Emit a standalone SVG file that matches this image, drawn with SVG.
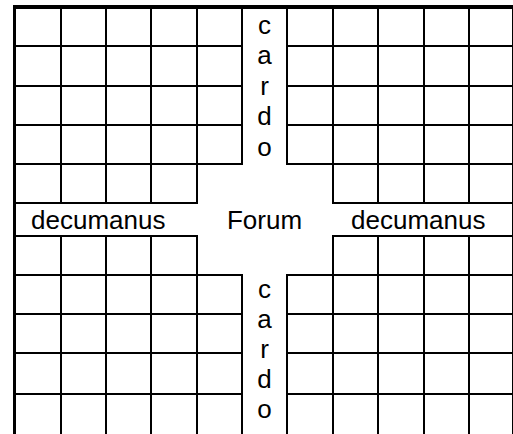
<svg xmlns="http://www.w3.org/2000/svg" width="513" height="434" viewBox="0 0 513 434">
<style>
.g{fill:none;stroke:#000;stroke-width:2}
.b{fill:#000}
.t{font-family:"Liberation Sans",Arial,sans-serif;font-size:26px;fill:#000}
.m{text-anchor:middle}
</style>
<rect width="513" height="434" fill="#fff"/>
<g id="border">
<rect class="b" x="13" y="5" width="3" height="429"/>
<rect class="b" x="13" y="5" width="499" height="4"/>
<rect class="b" x="512" y="5" width="1" height="429"/>
</g>
<g id="top-left-blocks">
<path class="g" d="M16 46H243M16 86H243M16 125H243M16 164H243M16 203H198M61 9V204M106 9V204M151 9V204M197 9V204M242 9V165"/>
</g>
<g id="top-right-blocks">
<path class="g" d="M286 46H512M286 86H512M286 125H512M286 164H512M332 203H512M287 9V165M333 9V204M378 9V204M424 9V204M469 9V204"/>
</g>
<g id="bottom-left-blocks">
<path class="g" d="M16 236H198M16 275H243M16 314H243M16 353H243M16 394H243M61 235V434M106 235V434M151 235V434M197 235V434M242 274V434"/>
</g>
<g id="bottom-right-blocks">
<path class="g" d="M332 236H512M286 275H512M286 314H512M286 353H512M286 394H512M333 235V434M378 235V434M424 235V434M469 235V434M287 274V434"/>
</g>
<g id="cardo-north">
<text class="t m" x="264.5" y="33.5">c</text>
<text class="t m" x="264.5" y="64">a</text>
<text class="t m" x="264.5" y="94.5">r</text>
<text class="t m" x="264.5" y="125">d</text>
<text class="t m" x="264.5" y="155.5">o</text>
</g>
<g id="forum">
<text class="t m" x="264.5" y="229">Forum</text>
</g>
<g id="decumanus-west">
<text class="t" x="31" y="229">decumanus</text>
</g>
<g id="decumanus-east">
<text class="t" x="351" y="229">decumanus</text>
</g>
<g id="cardo-south">
<text class="t m" x="264.5" y="297.5">c</text>
<text class="t m" x="264.5" y="327.5">a</text>
<text class="t m" x="264.5" y="357.5">r</text>
<text class="t m" x="264.5" y="387.5">d</text>
<text class="t m" x="264.5" y="417.5">o</text>
</g>
</svg>
